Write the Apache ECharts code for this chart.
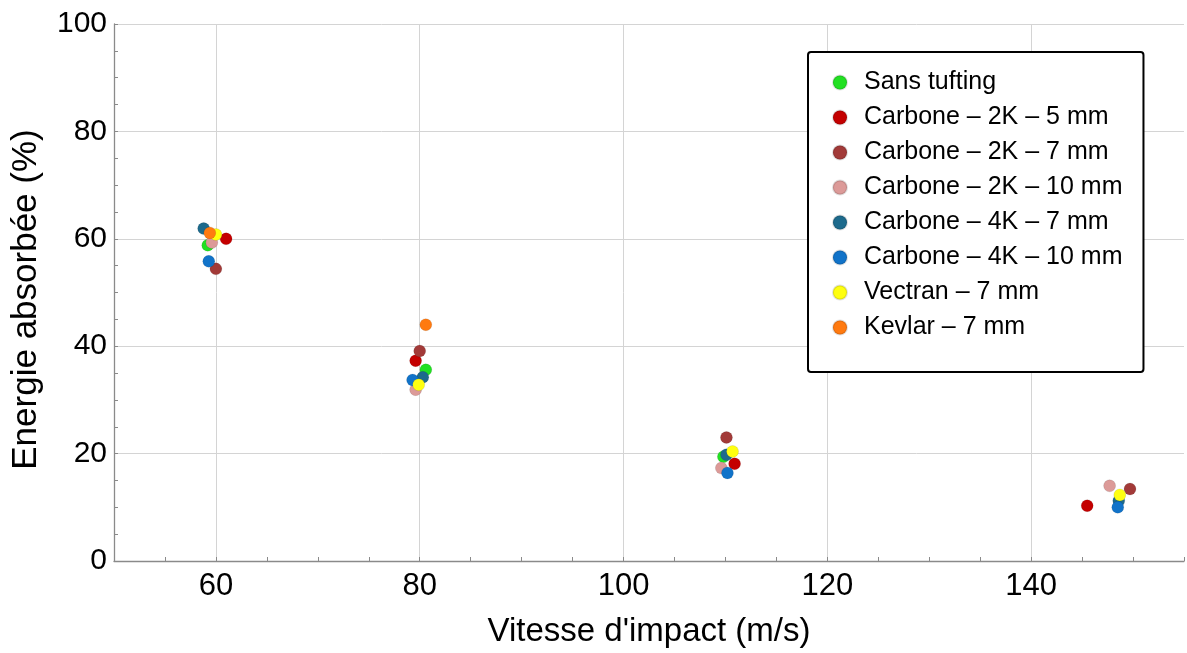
<!DOCTYPE html>
<html>
<head>
<meta charset="utf-8">
<script src="https://cdn.jsdelivr.net/npm/echarts@6/dist/echarts.min.js"></script>
<style>html,body{margin:0;padding:0;background:#fff}#c{width:1187px;height:653px}</style>
</head>
<body>
<div id="c"></div>
<script>
const seriesNames = ["Sans tufting","Carbone \u2013 2K \u2013 5 mm","Carbone \u2013 2K \u2013 7 mm","Carbone \u2013 2K \u2013 10 mm","Carbone \u2013 4K \u2013 7 mm","Carbone \u2013 4K \u2013 10 mm","Vectran \u2013 7 mm","Kevlar \u2013 7 mm"];
const seriesColors = ["#22e022","#c40000","#a23a38","#dc9a98","#1d6a8c","#1173c9","#ffff10","#ff7a10"];
const sansTufting = [[59.2,58.8],[80.6,35.6],[109.8,19.4]];
const c2K5 = [[61.0,60.0],[79.6,37.3],[110.9,18.1],[145.5,10.3]];
const c2K7 = [[60.0,54.4],[80.0,39.1],[110.1,23.0],[149.7,13.4]];
const c2K10 = [[59.6,59.3],[79.6,31.9],[109.6,17.3],[147.7,14.0]];
const c4K7 = [[58.8,61.9],[80.3,34.2],[110.1,19.8],[148.6,11.2]];
const c4K10 = [[59.3,55.8],[79.3,33.7],[110.2,16.4],[148.5,10.0]];
const vectran = [[60.0,60.8],[79.9,32.8],[110.7,20.4],[148.7,12.3]];
const kevlar = [[59.4,61.1],[80.6,44.0]];
const allData = [sansTufting,c2K5,c2K7,c2K10,c4K7,c4K10,vectran,kevlar];
const xTickLabels = ["60","80","100","120","140"];
const xTitle = "Vitesse d'impact (m/s)";
const yTitle = "Energie absorbée (%)";

const FONT = "Liberation Sans";
const GRID = '#d4d4d4';
const AXIS = '#8a8a8a';
const chart = echarts.init(document.getElementById('c'));

const gridSeries = {
  name: '__grid', type: 'scatter', data: [], z: 0, silent: true,
  markLine: {
    silent: true, symbol: ['none', 'none'], animation: false, z: 0,
    label: {show: false},
    lineStyle: {color: GRID, width: 1, type: 'solid'},
    emphasis: {disabled: true},
    data: xTickLabels.map(t => ({xAxis: Number(t)}))
  }
};

chart.setOption({
  animation: false,
  backgroundColor: '#fff',
  textStyle: {fontFamily: FONT},
  grid: {left: 114, right: -4, top: 24, bottom: 91, containLabel: false},
  xAxis: {
    type: 'value', min: 50, max: 155, interval: 10,
    name: xTitle, nameLocation: 'middle', nameGap: 54,
    nameTextStyle: {fontSize: 33, color: '#000', fontFamily: FONT},
    axisLine: {show: true, lineStyle: {color: AXIS, width: 1.3}},
    axisTick: {show: true, inside: true, length: 4, lineStyle: {color: AXIS}},
    minorTick: {show: true, splitNumber: 2, length: 4, lineStyle: {color: AXIS}},
    axisLabel: {fontSize: 31, color: '#000', margin: 10,
      formatter: v => xTickLabels.indexOf(String(v)) >= 0 ? String(v) : ''},
    splitLine: {show: false},
    minorSplitLine: {show: false}
  },
  yAxis: {
    type: 'value', min: 0, max: 100, interval: 20,
    name: yTitle, nameLocation: 'middle', nameGap: 70, nameRotate: 90,
    nameTextStyle: {fontSize: 35, color: '#000', fontFamily: FONT, padding: [0, 14, 0, 0]},
    axisLine: {show: true, lineStyle: {color: AXIS, width: 1.3}},
    axisTick: {show: true, inside: true, length: 4, lineStyle: {color: AXIS}},
    minorTick: {show: true, splitNumber: 4, length: 4, lineStyle: {color: AXIS}},
    axisLabel: {fontSize: 30, color: '#000', margin: 7},
    splitLine: {show: true, lineStyle: {color: GRID, width: 1}}
  },
  legend: {
    orient: 'vertical', left: 808, top: 52, z: 50,
    padding: [18, 21, 32, 24],
    backgroundColor: '#fff', borderColor: '#000', borderWidth: 2, borderRadius: 3,
    itemWidth: 14, itemHeight: 14, itemGap: 10,
    textStyle: {fontSize: 25, color: '#000', fontFamily: FONT, padding: [0, 0, 0, 12]},
    data: seriesNames.map(n => ({name: n, icon: 'circle'}))
  },
  series: [gridSeries].concat(allData.map((d, i) => ({
    name: seriesNames[i], type: 'scatter', data: d, symbolSize: 12,
    itemStyle: {color: seriesColors[i], opacity: 1, borderColor: 'rgba(0,0,0,0.12)', borderWidth: 0.8},
    z: 2 + i
  })))
});
</script>
</body>
</html>
